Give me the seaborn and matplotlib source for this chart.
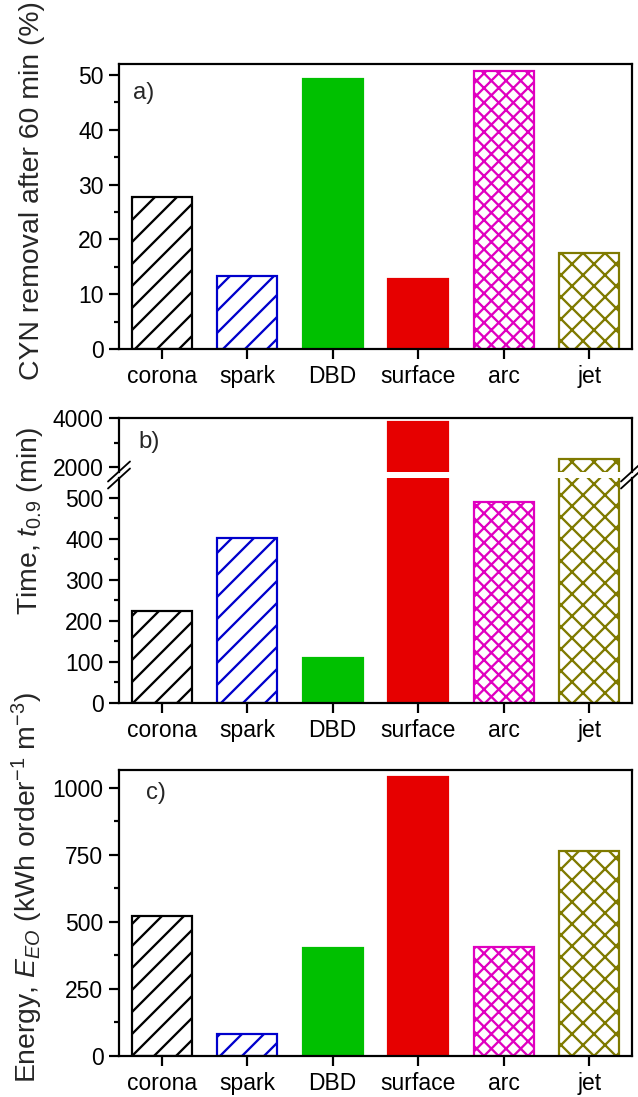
import numpy as np
import matplotlib
matplotlib.use("Agg")
import matplotlib.pyplot as plt
from matplotlib.lines import Line2D
from matplotlib.ticker import MultipleLocator, FixedLocator
import seaborn as sns

# ── data ───────────────────────────────────────────────
CATEGORIES = ["corona", "spark", "DBD", "surface", "arc", "jet"]
REMOVAL_60MIN = [27.7, 13.4, 49.3, 12.7, 50.7, 17.6]      # panel a (%)
TIME_T09 = [224, 402, 110, 3840, 489, 2320]               # panel b (min)
ENERGY_EEO = [522, 81, 403, 1041, 405, 763]               # panel c (kWh order-1 m-3)

EDGE = ["#000000", "#0000cc", "#00c000", "#e60000", "#e000c0", "#7f7a00"]
FILL = ["white", "white", "#00c000", "#e60000", "white", "white"]
HATCH = ["//", "//", None, None, "xxx", "xx"]

# ── style ──────────────────────────────────────────────
DPI = 132
W, H = 638, 1097
sns.set_theme(style="ticks")
plt.rcParams["font.family"] = ["Liberation Sans", "DejaVu Sans"]
plt.rcParams.update({
    "mathtext.fontset": "custom",
    "mathtext.rm": "Liberation Sans",
    "mathtext.it": "Liberation Sans:italic",
    "hatch.linewidth": 1.25,
    "axes.linewidth": 1.1,
    "axes.edgecolor": "black",
    "xtick.color": "black",
    "ytick.color": "black",
})
TICK_FS = 12.5
LABEL_FS = 15.5

fig = plt.figure(figsize=(W / DPI, H / DPI), dpi=DPI)


def px_axes(top, bottom, left=119, right=632):
    # axes placed from pixel edges of the reference
    return fig.add_axes([left / W, 1 - bottom / H, (right - left) / W, (bottom - top) / H])


def draw_bars(ax, values):
    sns.barplot(x=CATEGORIES, y=values, hue=CATEGORIES, palette=FILL,
                legend=False, width=0.7, saturation=1, ax=ax)
    for bar, ec, fc, h in zip(ax.patches, EDGE, FILL, HATCH):
        bar.set_facecolor(fc)
        bar.set_edgecolor(ec)
        bar.set_linewidth(1.2)
        if h:
            bar.set_hatch(h)
    ax.set_xlim(-0.5, len(CATEGORIES) - 0.5)
    ax.set_xlabel("")
    ax.set_ylabel("")


def style_ticks(ax, show_x=True):
    for s in ax.spines.values():
        s.set_visible(True)
        s.set_linewidth(1.2)
    ax.tick_params(axis="y", which="major", direction="out", length=5.5, width=1.2,
                   labelsize=TICK_FS, pad=3)
    ax.tick_params(axis="y", which="minor", direction="out", length=2.8, width=1.2)
    if show_x:
        ax.tick_params(axis="x", which="major", direction="out", length=5.5, width=1.2,
                       labelsize=TICK_FS, pad=3)
    else:
        ax.tick_params(axis="x", which="both", bottom=False, labelbottom=False)


# ── panel a ────────────────────────────────────────────
ax_a = px_axes(64, 349)
draw_bars(ax_a, REMOVAL_60MIN)
ax_a.set_ylim(0, 52)
ax_a.yaxis.set_major_locator(MultipleLocator(10))
ax_a.yaxis.set_minor_locator(MultipleLocator(5))
style_ticks(ax_a)

# ── panel b (broken axis) ──────────────────────────────
ax_bt = px_axes(418, 472)
draw_bars(ax_bt, TIME_T09)
ax_bt.set_ylim(1800, 4000)
ax_bt.yaxis.set_major_locator(FixedLocator([2000, 4000]))
ax_bt.yaxis.set_minor_locator(FixedLocator([3000]))
style_ticks(ax_bt, show_x=False)
ax_bt.spines["bottom"].set_visible(False)

ax_bb = px_axes(478, 703)
draw_bars(ax_bb, TIME_T09)
ax_bb.set_ylim(0, 548)
ax_bb.yaxis.set_major_locator(MultipleLocator(100))
ax_bb.yaxis.set_minor_locator(MultipleLocator(50))
style_ticks(ax_bb)
ax_bb.spines["top"].set_visible(False)

# break marks "//" on both spines
for xc in (119, 632):
    for dy in (-3.5, 3.5):
        y0 = 475 + dy
        fig.add_artist(Line2D([(xc - 11) / W, (xc + 11) / W],
                              [1 - (y0 + 10) / H, 1 - (y0 - 10) / H],
                              color="black", lw=1.0, transform=fig.transFigure))

# ── panel c ────────────────────────────────────────────
ax_c = px_axes(770, 1056)
draw_bars(ax_c, ENERGY_EEO)
ax_c.set_ylim(0, 1067)
ax_c.yaxis.set_major_locator(MultipleLocator(250))
ax_c.yaxis.set_minor_locator(MultipleLocator(125))
style_ticks(ax_c)

# ── labels ─────────────────────────────────────────────
LABEL_X = 45 / W
fig.text(LABEL_X, 1 - 191 / H, "CYN removal after 60 min (%)", rotation=90,
         ha="right", va="center", fontsize=LABEL_FS)
fig.text(LABEL_X, 1 - 521 / H, r"Time, $\mathit{t}_{\mathit{0.9}}$ (min)", rotation=90,
         ha="right", va="center", fontsize=LABEL_FS)
fig.text(LABEL_X, 1 - 888 / H,
         r"Energy, $\mathit{E}_{\mathit{EO}}$ (kWh order$^{-1}$ m$^{-3}$)",
         rotation=90, ha="right", va="center", fontsize=LABEL_FS)

fig.text(133 / W, 1 - 93 / H, "a)", ha="left", va="center", fontsize=13)
fig.text(138 / W, 1 - 442 / H, "b)", ha="left", va="center", fontsize=13)
fig.text(146 / W, 1 - 793 / H, "c)", ha="left", va="center", fontsize=13)

fig.savefig("out.png", dpi=DPI)
